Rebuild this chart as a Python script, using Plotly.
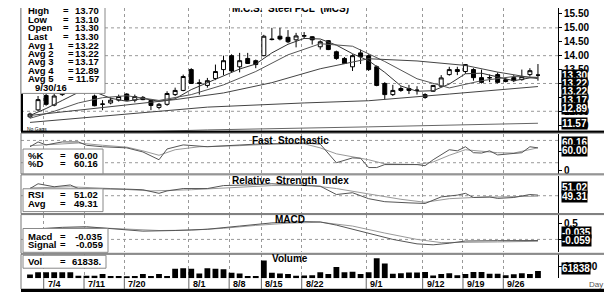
import plotly.graph_objects as go

W, H = 612, 293
FONT = "Arial, 'Liberation Sans', sans-serif"

# ---------------- data ----------------
dates = ["6/30", "7/1", "7/4", "7/5", "7/6", "7/7", "7/8", "7/11", "7/12", "7/13", "7/14", "7/15",
         "7/20", "7/21", "7/22", "7/25", "7/26", "7/27", "7/28", "7/29",
         "8/1", "8/2", "8/3", "8/4", "8/5", "8/8", "8/9", "8/10", "8/11",
         "8/15", "8/16", "8/17", "8/18", "8/19", "8/22", "8/23", "8/24", "8/25", "8/26",
         "8/29", "8/30", "8/31", "9/1", "9/2", "9/5", "9/6", "9/7", "9/8", "9/9",
         "9/12", "9/13", "9/14", "9/15", "9/16", "9/19", "9/20", "9/21", "9/22", "9/23",
         "9/26", "9/27", "9/28", "9/29", "9/30"]

opens = [11.80, 12.05, 12.57, 12.22, 12.60, 12.85, 12.95, 12.80, 12.55, 12.25,
         12.30, 12.40, 12.62, 12.40, 12.50, 12.39, 12.14, 12.25, 12.60, 12.75,
         13.50, 13.00, 12.93, 13.18, 13.50, 14.00, 13.60, 13.90, 13.82, 14.00,
         14.60, 14.70, 14.66, 14.57, 14.70, 14.68, 14.32, 14.54, 14.14, 13.90,
         13.60, 14.10, 14.00, 13.60, 13.00, 12.60, 12.82, 12.82, 12.75, 12.60,
         12.72, 12.90, 13.32, 13.50, 13.43, 13.50, 13.21, 13.20, 13.32, 13.07,
         13.21, 13.14, 13.32, 13.30]
highs = [11.95, 12.55, 12.70, 12.65, 12.95, 13.05, 13.00, 12.88, 12.60, 12.40,
         12.50, 12.60, 12.65, 12.60, 12.55, 12.42, 12.30, 12.72, 12.85, 13.32,
         13.55, 13.15, 13.20, 13.68, 14.00, 14.05, 14.10, 14.10, 13.86, 14.75,
         15.00, 15.00, 14.92, 14.82, 14.85, 14.70, 14.55, 14.56, 14.18, 13.95,
         14.05, 14.22, 14.05, 13.65, 13.05, 12.95, 12.90, 12.95, 12.90, 12.65,
         12.95, 13.30, 13.60, 13.60, 13.70, 13.55, 13.50, 13.32, 13.40, 13.20,
         13.30, 13.50, 13.55, 13.70]
lows = [11.75, 12.00, 12.20, 12.18, 12.55, 12.72, 12.72, 12.66, 12.18, 12.04,
        12.25, 12.35, 12.38, 12.32, 12.40, 12.04, 12.07, 12.20, 12.55, 12.72,
        12.98, 12.60, 12.85, 13.12, 13.30, 13.40, 13.40, 13.70, 13.55, 13.98,
        14.55, 14.55, 14.45, 14.30, 14.60, 14.40, 14.22, 14.20, 13.85, 13.70,
        13.45, 13.70, 13.45, 12.90, 12.43, 12.55, 12.70, 12.62, 12.60, 12.45,
        12.70, 12.88, 13.28, 13.30, 13.35, 13.10, 13.00, 13.05, 13.00, 13.04,
        13.05, 13.10, 13.25, 13.10]
closes = [11.90, 12.42, 12.25, 12.55, 12.85, 12.95, 12.80, 12.70, 12.20, 12.26,
          12.40, 12.53, 12.40, 12.53, 12.42, 12.21, 12.25, 12.64, 12.75, 13.25,
          13.00, 13.02, 13.10, 13.43, 13.82, 13.45, 13.82, 13.72, 13.68, 14.70,
          14.58, 14.60, 14.50, 14.71, 14.72, 14.57, 14.50, 14.22, 13.90, 13.72,
          14.00, 13.96, 13.50, 12.93, 12.60, 12.75, 12.75, 12.75, 12.76, 12.50,
          12.93, 13.20, 13.50, 13.43, 13.68, 13.21, 13.04, 13.21, 13.04, 13.14,
          13.10, 13.25, 13.46, 13.30]
volumes = [30000, 50000, 50000, 50000, 50000, 50000, 20000, 20000, 20000, 35000,
           18000, 18000, 15000, 18000, 35000, 18000, 35000, 18000, 80000, 85000,
           80000, 40000, 85000, 80000, 75000, 45000, 40000, 18000, 18000, 150000,
           45000, 40000, 35000, 20000, 22000, 25000, 50000, 35000, 95000, 50000,
           55000, 35000, 50000, 170000, 125000, 38000, 42000, 48000, 48000, 52000,
           22000, 35000, 42000, 25000, 35000, 52000, 52000, 38000, 38000, 25000,
           33000, 42000, 35000, 61838]

# moving averages (day index, value)
ma1_x = [0, 2, 4, 6, 8, 10, 12, 14, 16, 18, 20, 22, 24, 26, 28, 30, 32, 34, 36, 38, 40, 42, 44, 46, 48, 50, 52, 54, 56, 58, 60, 62, 63]
ma1_v = [11.85, 12.10, 12.39, 12.68, 12.70, 12.47, 12.36, 12.46, 12.36, 12.45, 12.78, 13.02, 13.27, 13.52, 13.70, 14.10,
         14.41, 14.62, 14.60, 14.38, 14.07, 13.82, 13.40, 12.91, 12.72, 12.74, 12.98, 13.35, 13.37, 13.23, 13.10, 13.20, 13.22]
ma2_x = [0, 3, 6, 9, 12, 16, 20, 24, 28, 32, 36, 40, 44, 48, 52, 56, 60, 63]
ma2_v = [11.75, 12.00, 12.30, 12.49, 12.56, 12.39, 12.60, 12.95, 13.43, 14.03, 14.43, 14.34, 13.79, 13.17, 12.84, 13.10, 13.25, 13.22]
ma3_x = [0, 8, 14, 18, 24, 30, 36, 42, 48, 54, 58, 63]
ma3_v = [11.85, 12.10, 12.30, 12.42, 12.66, 13.03, 13.53, 13.89, 13.81, 13.65, 13.41, 13.17]
ma4_x = [0, 12, 22, 34, 42, 52, 63]
ma4_v = [11.60, 11.90, 12.15, 12.30, 12.38, 12.62, 12.89]
ma5_x = [0, 14, 22, 42, 63]
ma5_v = [11.15, 11.27, 11.33, 11.44, 11.57]

k_x = [0, 1, 2, 4, 6, 7, 9, 12, 14, 16, 17, 19, 22, 26, 28, 34, 36, 38, 40, 41, 42, 43, 44, 46, 48, 49, 50, 52, 53, 54,
       55, 56, 57, 58, 60, 61, 62, 63]
k_v = [63, 76, 68, 76, 76, 67, 63, 60, 49, 28, 57, 68, 63, 67, 70, 73, 70, 20, 33, 32, 7, 7, 15, 15, 15, 12, 28, 55, 52, 63,
       47, 46, 52, 41, 44, 47, 63, 60.00]
d_x = [0, 3, 6, 9, 12, 14, 16, 18, 21, 26, 30, 34, 36, 38, 40, 42, 44, 46, 48, 50, 52, 54, 56, 58, 60, 62, 63]
d_v = [66, 70, 73, 67, 62, 52, 40, 55, 63, 66, 70, 71, 60, 44, 37, 28, 17, 15, 15, 22, 40, 55, 50, 47, 46, 55, 60.16]

rsi_x = [0, 1, 3, 5, 6, 9, 12, 14, 16, 17, 19, 22, 24, 27, 30, 34, 36, 38, 40, 42, 44, 47, 49, 51, 53, 54, 55, 57, 58, 60, 62, 63]
rsi_v = [62, 70, 65, 68, 62, 62, 61, 60, 54, 58, 62, 62, 67, 68, 70, 67, 66, 52, 55, 45, 40, 38, 37, 48, 51, 54, 47, 48, 45.5, 47, 52, 51.02]
rsia_x = [0, 5, 10, 15, 20, 25, 30, 35, 38, 42, 46, 49, 52, 55, 58, 63]
rsia_v = [63, 65, 62, 58, 60, 64, 67, 67, 62, 53, 44, 39, 45, 47, 48, 49.31]

macd_x = [0, 4, 7, 10, 14, 18, 22, 26, 30, 34, 36, 38, 42, 45, 48, 50, 52, 54, 58, 63]
macd_v = [0.32, 0.38, 0.40, 0.34, 0.26, 0.28, 0.32, 0.42, 0.52, 0.56, 0.55, 0.45, 0.20, 0.0, -0.14, -0.17, -0.12, -0.05, -0.04, -0.035]
sig_x = [0, 4, 8, 12, 16, 20, 24, 28, 32, 36, 40, 44, 48, 51, 54, 58, 63]
sig_v = [0.30, 0.35, 0.37, 0.33, 0.28, 0.29, 0.35, 0.44, 0.51, 0.54, 0.42, 0.20, 0.0, -0.10, -0.10, -0.08, -0.059]

tick_dates = ["7/4", "7/11", "7/20", "8/1", "8/8", "8/15", "8/22", "9/1", "9/12", "9/19", "9/26"]

legend_rows = [("High", "13.70"), ("Low", "13.10"), ("Open", "13.30"), ("Last", "13.30"),
               ("Avg  1", "13.22"), ("Avg  2", "13.22"), ("Avg  3", "13.17"), ("Avg  4", "12.89"), ("Avg  5", "11.57")]
price_tags = ["13.30", "13.22", "13.22", "13.17", "12.89", "11.57"]

# ---------------- helpers ----------------
idx = list(range(len(dates)))
XR = [-1.116, 65.485]           # day-index range of the plot area


def fx(p):
    return p / W


def fy(p):
    return 1 - p / H


grid_pos = [dates.index(d) - 0.3 for d in tick_dates]

fig = go.Figure()

# main price panel
fig.add_trace(go.Candlestick(
    x=idx, open=opens, high=highs, low=lows, close=closes,
    increasing=dict(line=dict(color="black", width=1), fillcolor="white"),
    decreasing=dict(line=dict(color="black", width=1), fillcolor="black"),
    whiskerwidth=0, xaxis="x", yaxis="y", hoverinfo="skip"))
for xs, vs, col in [(ma1_x, ma1_v, "#333"), (ma2_x, ma2_v, "#555"), (ma3_x, ma3_v, "#444"),
                    (ma4_x, ma4_v, "#444"), (ma5_x, ma5_v, "#666")]:
    fig.add_trace(go.Scatter(x=xs, y=vs, mode="lines", line=dict(color=col, width=1),
                             xaxis="x", yaxis="y", hoverinfo="skip"))

# stochastic
fig.add_trace(go.Scatter(x=d_x, y=d_v, mode="lines", line=dict(color="#999", width=1), xaxis="x2", yaxis="y2"))
fig.add_trace(go.Scatter(x=k_x, y=k_v, mode="lines", line=dict(color="#555", width=1), xaxis="x2", yaxis="y2"))
# RSI
fig.add_trace(go.Scatter(x=rsia_x, y=rsia_v, mode="lines", line=dict(color="#999", width=1), xaxis="x3", yaxis="y3"))
fig.add_trace(go.Scatter(x=rsi_x, y=rsi_v, mode="lines", line=dict(color="#555", width=1), xaxis="x3", yaxis="y3"))
# MACD
fig.add_trace(go.Scatter(x=sig_x, y=sig_v, mode="lines", line=dict(color="#999", width=1), xaxis="x4", yaxis="y4"))
fig.add_trace(go.Scatter(x=macd_x, y=macd_v, mode="lines", line=dict(color="#555", width=1), xaxis="x4", yaxis="y4"))
# volume
fig.add_trace(go.Bar(x=idx, y=volumes, marker=dict(color="black", line=dict(width=0)), width=0.72,
                     xaxis="x5", yaxis="y5"))

# ---------------- axes ----------------
panels = {  # name: (top px, bottom px, range)
    "": (0, 124, [11.2857, 15.7143]),
    "2": (127, 167, [-10, 97]),
    "3": (169, 206, [21.7, 83.3]),
    "4": (208, 246, [-0.406, 0.781]),
    "5": (248, 272, [0, 203000]),
}
tickcfg = {
    "": ([11.5, 12, 12.5, 13, 13.5, 14, 14.5, 15, 15.5], None),
    "2": ([0, 50], ["0", "50"]),
    "3": ([], []),
    "4": ([0, 0.5], ["0", "0.5"]),
    "5": ([100000], ["100000"]),
}
layout_axes = {}
for k, (top, bot, rng) in panels.items():
    tv, tt = tickcfg[k]
    if tt is None:
        tt = ["%.2f" % v for v in tv]
    layout_axes["xaxis" + k] = dict(
        domain=[fx(13), fx(550)], range=XR, anchor="y" + k, showticklabels=False,
        tickvals=grid_pos, ticks="", showgrid=True, griddash="dot", gridcolor="#999", gridwidth=1,
        zeroline=False, showline=False, fixedrange=True)
    layout_axes["yaxis" + k] = dict(
        domain=[fy(bot), fy(top)], range=rng, anchor="x" + k, side="right",
        showgrid=False, zeroline=False, showline=True, linecolor="black", linewidth=1,
        ticks="outside", ticklen=3, tickcolor="black", tickvals=tv, ticktext=tt,
        tickfont=dict(family=FONT, size=10, color="black", weight="bold"), fixedrange=True)
layout_axes["xaxis"]["rangeslider"] = dict(visible=False)

shapes = []
# horizontal dotted grid lines in data coords
for yv in [12, 13, 14, 15]:
    shapes.append(dict(type="line", xref="x", yref="y", x0=XR[0], x1=XR[1], y0=yv, y1=yv,
                       line=dict(color="#999", width=1, dash="dot"), layer="below"))
for yv in [20, 80]:
    shapes.append(dict(type="line", xref="x2", yref="y2", x0=XR[0], x1=XR[1], y0=yv, y1=yv,
                       line=dict(color="#999", width=1, dash="dot"), layer="below"))
shapes.append(dict(type="line", xref="x3", yref="y3", x0=XR[0], x1=XR[1], y0=50, y1=50,
                   line=dict(color="#999", width=1, dash="dot"), layer="below"))
shapes.append(dict(type="line", xref="x4", yref="y4", x0=XR[0], x1=XR[1], y0=0, y1=0,
                   line=dict(color="#999", width=1, dash="dot"), layer="below"))

# panel frames
for top, bot in [(-2, 124), (126, 167), (168, 207), (208, 247), (248, 283)]:
    shapes.append(dict(type="rect", xref="paper", yref="paper", x0=fx(13), x1=fx(597), y0=fy(bot), y1=fy(top),
                       line=dict(color="#777", width=1), fillcolor="rgba(0,0,0,0)", layer="above"))
shapes.append(dict(type="line", xref="paper", yref="paper", x0=fx(13), x1=fx(597), y0=fy(124.5), y1=fy(124.5),
                   line=dict(color="black", width=2), layer="above"))
shapes.append(dict(type="line", xref="paper", yref="paper", x0=fx(14), x1=fx(14), y0=fy(124), y1=fy(86),
                   line=dict(color="black", width=2), layer="above"))
shapes.append(dict(type="line", xref="paper", yref="paper", x0=fx(13), x1=fx(597), y0=fy(284.5), y1=fy(284.5),
                   line=dict(color="black", width=3), layer="above"))
# date row separators
for gp in grid_pos:
    shapes.append(dict(type="line", xref="x5", yref="paper", x0=gp, x1=gp, y0=fy(283), y1=fy(272),
                       line=dict(color="#666", width=1), layer="above"))
# legend boxes
for x0, x1, y0, y1 in [(13, 97, -2, 86), (15, 95, 142, 167), (15, 95, 182, 205), (15, 100, 222, 246), (15, 98, 249, 262)]:
    shapes.append(dict(type="rect", xref="paper", yref="paper", x0=fx(x0), x1=fx(x1), y0=fy(y1), y1=fy(y0),
                       line=dict(color="#888", width=1), fillcolor="white", layer="above"))
# orange side bars
for x0, x1 in [(600, 603), (606, 612)]:
    shapes.append(dict(type="rect", xref="paper", yref="paper", x0=fx(x0), x1=fx(x1), y0=0, y1=1,
                       line=dict(width=0), fillcolor="#f37021", layer="above"))

ann = []


def txt(x, y, s, anchor="left", size=9.5, color="black", bold=True, **kw):
    ann.append(dict(xref="paper", yref="paper", x=fx(x), y=fy(y), text=s, showarrow=False,
                    xanchor=anchor, yanchor="middle",
                    font=dict(family=FONT, size=size, color=color, weight="bold" if bold else "normal"), **kw))


# main legend
row_y = [3, 11.5, 20, 28.5, 37.3, 45.7, 54.2, 62.7, 71.3]
for (lab, val), y in zip(legend_rows, row_y):
    txt(18, y, lab.replace("  ", "&nbsp;"))
    txt(58 if not lab.startswith("Avg") else 63, y, "=", anchor="center")
    txt(93, y, val, anchor="right")
txt(25, 80.5, "9/30/16")

# sub-panel legends
txt(18, 148.5, "%K")
txt(55, 148.5, "=", anchor="center")
txt(92, 148.5, "%.2f" % k_v[-1], anchor="right")
txt(18, 156.5, "%D")
txt(55, 156.5, "=", anchor="center")
txt(92, 156.5, "%.2f" % d_v[-1], anchor="right")
txt(18, 188, "RSI")
txt(55, 188, "=", anchor="center")
txt(92, 188, "%.2f" % rsi_v[-1], anchor="right")
txt(18, 196.5, "Avg")
txt(55, 196.5, "=", anchor="center")
txt(92, 196.5, "%.2f" % rsia_v[-1], anchor="right")
txt(18, 230, "Macd")
txt(55, 230, "=", anchor="center")
txt(97, 230, "%.3f" % macd_v[-1], anchor="right")
txt(18, 238.5, "Signal")
txt(55, 238.5, "=", anchor="center")
txt(97, 238.5, "%.3f" % sig_v[-1], anchor="right")
txt(18, 255.5, "Vol")
txt(55, 255.5, "=", anchor="center")
txt(95, 255.5, "%d." % volumes[-1], anchor="right")

# panel titles
txt(282, 0, "M.C.S.  Steel PCL  (MCS)", anchor="center", size=10)
txt(282, 133, "Fast  Stochastic", anchor="center", size=10)
txt(282, 174, "Relative  Strength  Index", anchor="center", size=10)
txt(282, 212.5, "MACD", anchor="center", size=10)
txt(282, 252.5, "Volume", anchor="center", size=10)
txt(17, 121.5, "No Gaps", size=5, bold=False)
txt(579, 278.5, "Day", size=8, bold=False, color="#555")

# value tags on right axis
tag_y = [67.5, 76, 84.5, 93, 101, 116]
for s, y in zip(price_tags, tag_y):
    txt(553, y, s, color="white", bgcolor="black", borderpad=0, size=10)
for s, y in [("%.2f" % d_v[-1], 135), ("%.2f" % k_v[-1], 143.5), ("%.2f" % rsi_v[-1], 181),
             ("%.2f" % rsia_v[-1], 189.5), ("%.3f" % macd_v[-1], 226), ("%.3f" % sig_v[-1], 234.5),
             ("%d" % volumes[-1], 262)]:
    txt(553, y, s, color="white", bgcolor="black", borderpad=0, size=10)

# date labels
for d, gp in zip(tick_dates, grid_pos):
    ann.append(dict(xref="x5", yref="paper", x=gp, y=fy(278), text=d, showarrow=False, xanchor="left",
                    yanchor="middle", xshift=2, font=dict(family=FONT, size=9, color="black", weight="bold")))

fig.update_layout(
    width=W, height=H, margin=dict(l=0, r=0, t=0, b=0), autosize=False,
    paper_bgcolor="white", plot_bgcolor="white", showlegend=False,
    boxgap=0.3, bargap=0.25,
    shapes=shapes, annotations=ann, **layout_axes)

fig.write_html("out.html")
